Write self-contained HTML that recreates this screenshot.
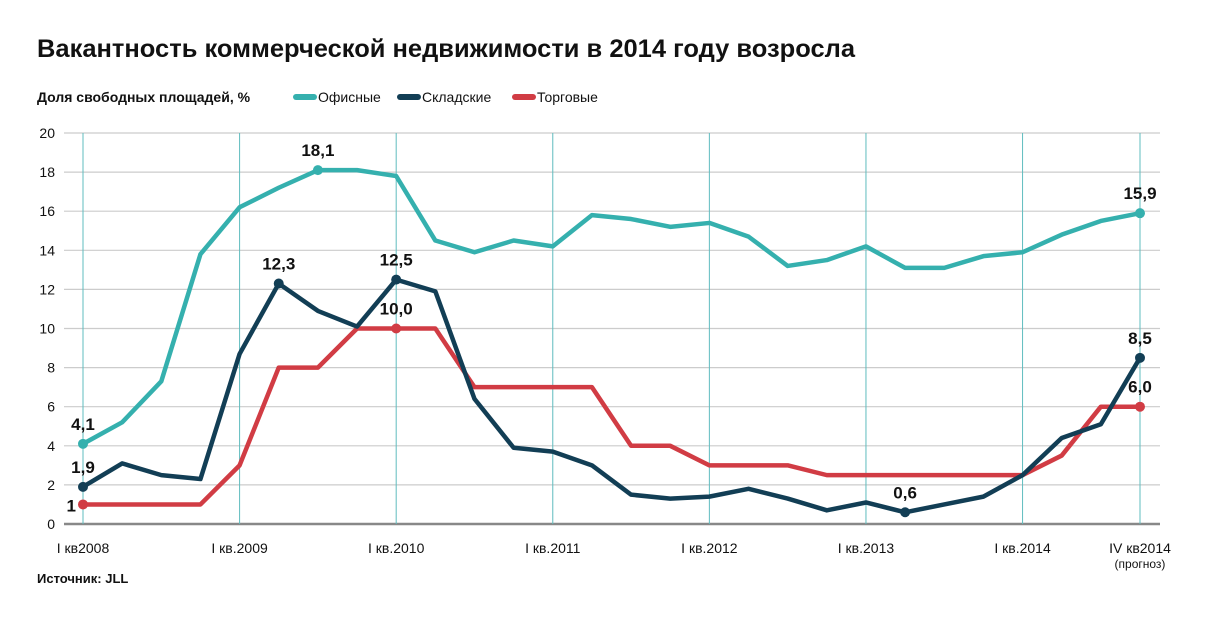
<!DOCTYPE html>
<html><head><meta charset="utf-8"><style>
body{margin:0;background:#fff;width:1206px;height:623px;overflow:hidden;font-family:"Liberation Sans","DejaVu Sans",sans-serif;}
svg text{font-family:"Liberation Sans","DejaVu Sans",sans-serif;}
</style></head><body>
<svg id="chart" width="1206" height="623" xmlns="http://www.w3.org/2000/svg">
<text x="37" y="57" font-size="25" font-weight="bold" fill="#111" textLength="818" lengthAdjust="spacingAndGlyphs">Вакантность коммерческой недвижимости в 2014 году возросла</text>
<text x="37" y="102" font-size="14" font-weight="bold" fill="#111">Доля свободных площадей, %</text>
<g><line x1="296" y1="97" x2="314" y2="97" stroke="#35b0ae" stroke-width="6" stroke-linecap="round"/><text x="318" y="102" font-size="14" fill="#111">Офисные</text></g>
<g><line x1="400" y1="97" x2="418" y2="97" stroke="#123e55" stroke-width="6" stroke-linecap="round"/><text x="422" y="102" font-size="14" fill="#111">Складские</text></g>
<g><line x1="515" y1="97" x2="533" y2="97" stroke="#d13c44" stroke-width="6" stroke-linecap="round"/><text x="537" y="102" font-size="14" fill="#111">Торговые</text></g>
<g id="grid"></g><g id="series"></g><g id="labels"></g>
<text x="37" y="583" font-size="13" font-weight="bold" fill="#111">Источник: JLL</text>
</svg>
<script>
const yTicks=[0,2,4,6,8,10,12,14,16,18,20];
const xTickLabels=["I кв2008","I кв.2009","I кв.2010","I кв.2011","I кв.2012","I кв.2013","I кв.2014","IV кв2014"];
const xTickIdx=[0,4,8,12,16,20,24,27];
const office=[4.1,5.2,7.3,13.8,16.2,17.2,18.1,18.1,17.8,14.5,13.9,14.5,14.2,15.8,15.6,15.2,15.4,14.7,13.2,13.5,14.2,13.1,13.1,13.7,13.9,14.8,15.5,15.9];
const warehouse=[1.9,3.1,2.5,2.3,8.7,12.3,10.9,10.1,12.5,11.9,6.4,3.9,3.7,3.0,1.5,1.3,1.4,1.8,1.3,0.7,1.1,0.6,1.0,1.4,2.5,4.4,5.1,8.5];
const retail=[1,1,1,1,3,8,8,10,10,10,7,7,7,7,4,4,3,3,3,2.5,2.5,2.5,2.5,2.5,2.5,3.5,6,6];
const officeMarks=[[0,"4,1"],[6,"18,1"],[27,"15,9"]];
const warehouseMarks=[[0,"1,9"],[5,"12,3"],[8,"12,5"],[21,"0,6"],[27,"8,5"]];
const retailMarks=[[0,"1"],[8,"10,0"],[27,"6,0"]];
const NS="http://www.w3.org/2000/svg";
const X=i=>83+i*(1140-83)/27, Y=v=>524-v*(524-133)/20;
function mk(t,a,p){const e=document.createElementNS(NS,t);for(const k in a)e.setAttribute(k,a[k]);p.appendChild(e);return e;}
const g=document.getElementById('grid');
yTicks.forEach(v=>{
 const l=mk('line',{x1:64,x2:1160,y1:Y(v),y2:Y(v),stroke:v==0?'#888':'#ccc','stroke-width':v==0?2.5:1.2},g);
 
 
 const t=mk('text',{x:55,y:Y(v)+5,'font-size':14,'text-anchor':'end',fill:'#111'},g);t.textContent=v;
 
 
});
xTickIdx.forEach((i,k)=>{
 const l=mk('line',{x1:X(i),x2:X(i),y1:133,y2:524,stroke:'#5fbcbf','stroke-width':1},g);
 
 
 const t=mk('text',{x:X(i),y:553,'font-size':14,'text-anchor':'middle',fill:'#111'},g);t.textContent=xTickLabels[k];
 
 
});
const f=mk('text',{x:1140,y:568,'font-size':12,'text-anchor':'middle',fill:'#111'},g);f.textContent='(прогноз)';


const s=document.getElementById('series'),lb=document.getElementById('labels');
function series(d,c,name,marks,dy){
 const p=mk('polyline',{points:d.map((v,i)=>X(i)+','+Y(v)).join(' '),fill:'none',stroke:c,'stroke-width':4.5,'stroke-linejoin':'round'},s);
 
 
 marks.forEach(([i,txt])=>{
  const cc=mk('circle',{cx:X(i),cy:Y(d[i]),r:5,fill:c},s);
  
  
  let ox=0,oy=dy,anc='middle';
  if(name=='retail'&&i==0){ox=-7;oy=7;anc='end';}
  const t=mk('text',{x:X(i)+ox,y:Y(d[i])+oy,'font-size':17,'font-weight':'bold','text-anchor':anc,fill:'#111'},lb);t.textContent=txt;
  
  
 });
}
series(retail,'#d13c44','retail',retailMarks,-14);
series(office,'#35b0ae','office',officeMarks,-14);
series(warehouse,'#123e55','warehouse',warehouseMarks,-14);
</script>
</body></html>
